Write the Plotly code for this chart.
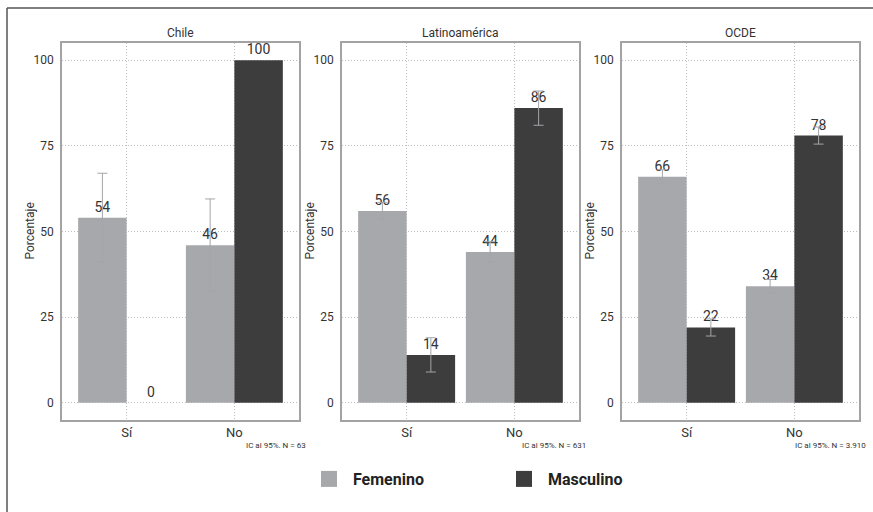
import plotly.graph_objects as go
from plotly.subplots import make_subplots

# --- data -------------------------------------------------------------
categorias = ["Sí", "No"]
regiones = ["Chile", "Latinoamérica", "OCDE"]
notas = ["IC al 95%. N = 63", "IC al 95%. N = 631", "IC al 95%. N = 3.910"]

femenino_chile = [54, 46]
femenino_latam = [56, 44]
femenino_ocde = [66, 34]

masculino_chile = [0, 100]
masculino_latam = [14, 86]
masculino_ocde = [22, 78]

# half-width of the 95% confidence interval
ic_femenino_chile = [13, 13.5]
ic_femenino_latam = [2.5, 3]
ic_femenino_ocde = [2, 2]
ic_masculino_chile = [0, 0]
ic_masculino_latam = [5, 5]
ic_masculino_ocde = [2.5, 2.5]

ticks_y = [0, 25, 50, 75, 100]

# --- style ------------------------------------------------------------
W, H = 873, 512
FONT = "Roboto, Liberation Sans, sans-serif"
COL_FEM = "#a7a8ac"
COL_MAS = "#3d3d3d"
COL_ERR = "#a4a5a9"
COL_FRAME = "#a3a3a3"
COL_GRID = "#bdbdbd"
TXT = "#333333"


def fx(p):
    return p / W


def fy(p):
    return 1 - p / H


panel_left = [62, 342, 622]
panel_w = 237
panel_top, panel_bottom = 43, 420

femenino = [femenino_chile, femenino_latam, femenino_ocde]
masculino = [masculino_chile, masculino_latam, masculino_ocde]
ic_fem = [ic_femenino_chile, ic_femenino_latam, ic_femenino_ocde]
ic_mas = [ic_masculino_chile, ic_masculino_latam, ic_masculino_ocde]

fig = make_subplots(rows=1, cols=3)

for i in range(3):
    for vals, err, col in ((femenino[i], ic_fem[i], COL_FEM),
                           (masculino[i], ic_mas[i], COL_MAS)):
        fig.add_trace(
            go.Bar(
                x=categorias,
                y=vals,
                marker=dict(color=col, line=dict(width=0)),
                error_y=dict(type="data", array=err, visible=any(e > 0 for e in err),
                             color=COL_ERR, thickness=1, width=5),
                text=[str(v) for v in vals],
                textposition="outside",
                constraintext="none",
                cliponaxis=False,
                textfont=dict(family=FONT, size=14, color=TXT),
                showlegend=False,
                hoverinfo="skip",
            ),
            row=1, col=i + 1,
        )

# legend entries
for name, col in (("Femenino", COL_FEM), ("Masculino", COL_MAS)):
    fig.add_trace(go.Scatter(
        x=[None], y=[None], mode="markers", name=" " + name,
        marker=dict(symbol="square", size=16, color=col),
        showlegend=True,
    ))

for i in range(3):
    ax = "" if i == 0 else str(i + 1)
    fig.layout["xaxis" + ax].update(
        domain=[fx(panel_left[i]), fx(panel_left[i] + panel_w)],
        range=[-0.6, 1.6],
        type="category",
        showgrid=True, gridcolor=COL_GRID, griddash="1px,2px", gridwidth=1,
        showline=True, mirror=True, linecolor=COL_FRAME, linewidth=1.5,
        ticks="", tickfont=dict(family=FONT, size=13, color=TXT),
        zeroline=False,
    )
    fig.layout["yaxis" + ax].update(
        domain=[fy(panel_bottom), fy(panel_top)],
        range=[-5, 105],
        tickvals=ticks_y,
        showgrid=True, gridcolor=COL_GRID, griddash="1px,2px", gridwidth=1,
        showline=True, mirror=True, linecolor=COL_FRAME, linewidth=1.5,
        ticks="", ticklabelstandoff=4,
        tickfont=dict(family=FONT, size=12, color=TXT),
        zeroline=False,
    )
    cx = panel_left[i] + panel_w / 2
    fig.add_annotation(text=regiones[i], x=fx(cx), y=fy(33), xref="paper", yref="paper",
                       showarrow=False, xanchor="center", yanchor="middle",
                       font=dict(family=FONT, size=12, color=TXT))
    fig.add_annotation(text="Porcentaje", x=fx(panel_left[i] - 33), y=fy((panel_top + panel_bottom) / 2),
                       xref="paper", yref="paper", textangle=-90,
                       showarrow=False, xanchor="center", yanchor="middle",
                       font=dict(family=FONT, size=12, color=TXT))
    fig.add_annotation(text=notas[i], x=fx(panel_left[i] + panel_w + 9), y=fy(445),
                       xref="paper", yref="paper",
                       showarrow=False, xanchor="right", yanchor="middle",
                       font=dict(family=FONT, size=8, color=TXT))

# outer frame (top and left edges)
fig.add_shape(type="line", xref="paper", yref="paper",
              x0=fx(7), x1=1, y0=fy(8), y1=fy(8), line=dict(color="#555555", width=1.5))
fig.add_shape(type="line", xref="paper", yref="paper",
              x0=fx(7), x1=fx(7), y0=fy(8), y1=0, line=dict(color="#555555", width=1.5))

fig.update_layout(
    width=W, height=H,
    margin=dict(l=0, r=0, t=0, b=0),
    paper_bgcolor="white", plot_bgcolor="white",
    barmode="group", bargap=0.1, bargroupgap=0,
    showlegend=True,
    legend=dict(
        orientation="h", x=fx(309), y=fy(479), xanchor="left", yanchor="middle",
        entrywidth=150, entrywidthmode="pixels",
        font=dict(family=FONT, size=16, color="#222222", weight="bold"),
        bgcolor="rgba(0,0,0,0)", itemclick=False,
    ),
)

fig.write_html("out.html")
